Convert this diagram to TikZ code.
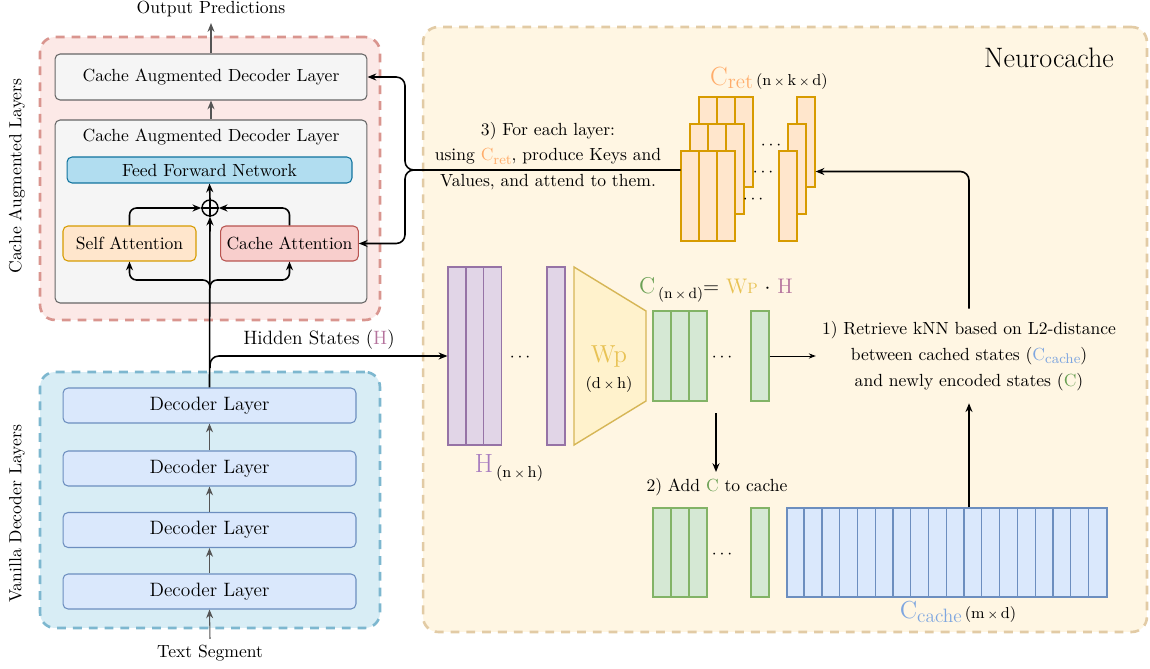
\documentclass[tikz,border=0pt]{standalone}
\usepackage{tikz}
\usetikzlibrary{arrows.meta}

\definecolor{redfr}{HTML}{D9958F}
\definecolor{redbg}{HTML}{FCE9E7}
\definecolor{bluefr}{HTML}{7DB7CF}
\definecolor{bluebg}{HTML}{D8EDF5}
\definecolor{ncfr}{HTML}{E2CBA5}
\definecolor{ncbg}{HTML}{FFF6E3}
\definecolor{gryd}{HTML}{666666}
\definecolor{gryf}{HTML}{F5F5F5}
\definecolor{ffnd}{HTML}{10739E}
\definecolor{ffnf}{HTML}{B1DDF0}
\definecolor{sad}{HTML}{D79B00}
\definecolor{saf}{HTML}{FFE6CC}
\definecolor{cad}{HTML}{B85450}
\definecolor{caf}{HTML}{F8CECC}
\definecolor{decd}{HTML}{6C8EBF}
\definecolor{decf}{HTML}{DAE8FC}
\definecolor{hpd}{HTML}{9673A6}
\definecolor{hpf}{HTML}{E1D5E7}
\definecolor{cgd}{HTML}{82B366}
\definecolor{cgf}{HTML}{D5E8D4}
\definecolor{wpd}{HTML}{D6B656}
\definecolor{wpf}{HTML}{FFF2CC}
\definecolor{cgt}{HTML}{6AA054}
\definecolor{hpink}{HTML}{B5739D}
\definecolor{hlav}{HTML}{A77BBF}
\definecolor{wpc}{HTML}{E8C254}
\definecolor{retc}{HTML}{FFAD6B}
\definecolor{cchc}{HTML}{7EA6E0}
\definecolor{garrc}{HTML}{555555}

\newcommand{\fsz}[1]{\fontsize{#1}{#1}\selectfont}
\newcommand{\tms}{\,{\scriptsize$\times$}\,}
\newcommand{\lsub}[1]{\raisebox{-0.45ex}{\footnotesize #1}}

\tikzset{
  frame/.style={draw=#1, dash pattern=on 5pt off 4pt, line width=1.5pt, rounded corners=0.3cm},
  blk/.style 2 args={draw=#1, fill=#2, rounded corners=0.1cm, line width=0.6pt},
  col/.style 2 args={draw=#1, fill=#2, line width=0.8pt, minimum width=0.356cm, inner sep=0pt},
  conn/.style={line width=0.9pt, black},
  garr/.style={line width=0.6pt, garrc},
}

\begin{document}
\begin{tikzpicture}[x=0.02cm, y=-0.02cm, >={Stealth[length=5pt,width=4pt]}]
\useasboundingbox (0,0) rectangle (1150,669);

  % containers
  \node[frame=redfr, fill=redbg, minimum width=6.8cm, minimum height=5.66cm] (cal) at (210,178.5) {};
  \node[frame=bluefr, fill=bluebg, minimum width=6.8cm, minimum height=5.12cm] (vdl) at (210,500) {};
  \node[frame=ncfr, fill=ncbg, minimum width=14.48cm, minimum height=12.1cm] (nc) at (785,329.5) {};

  \node[rotate=90] (callbl) at (17,176) {Cache Augmented Layers};
  \node[rotate=90] (vdlbl) at (17,514) {Vanilla Decoder Layers};
  \node[font=\fsz{16}] (nclbl) at (1049,58) {Neurocache};

  % cache augmented layers
  \node[blk={gryd}{gryf}, minimum width=6.24cm, minimum height=0.92cm] (topl) at (211,77) {Cache Augmented Decoder Layer};
  \node[blk={gryd}{gryf}, minimum width=6.24cm, minimum height=3.66cm] (big) at (211,211.5) {};
  \node (bigt) at (211,137) {Cache Augmented Decoder Layer};
  \node[blk={ffnd}{ffnf}, minimum width=5.7cm, minimum height=0.52cm] (ffn) at (209.5,170) {Feed Forward Network};
  \node[draw, circle, minimum size=0.32cm, inner sep=0pt, line width=0.8pt] (plus) at (210,208) {};
  \draw[line width=0.8pt] (plus.north) -- (plus.south) (plus.east) -- (plus.west);
  \node[blk={sad}{saf}, minimum width=2.66cm, minimum height=0.7cm] (sa) at (129.5,243.5) {Self Attention};
  \node[blk={cad}{caf}, minimum width=2.66cm, minimum height=0.7cm] (ca) at (289.5,243.5) {Cache Attention};

  % vanilla layers
  \foreach \n/\y in {1/405.5,2/468.5,3/530,4/591.5}
    \node[blk={decd}{decf}, minimum width=5.86cm, minimum height=0.7cm, font=\fsz{11}] (d\n) at (209.5,\y) {Decoder Layer};

  \node (outp) at (211,9) {Output Predictions};
  \node (txtseg) at (210,653) {Text Segment};

  \draw[->,garr] (txtseg.north) -- (d4.south);
  \foreach \a/\b in {4/3,3/2,2/1}
    \draw[->,garr] (d\a.north) -- (d\b.south);
  \draw[->,garr] (big.north) -- (topl.south);
  \draw[->,garr] (topl.north) -- (outp.south);

  \draw[->,conn] (d1.north) -- (plus.south);
  \draw[->,conn] (plus.north) -- (ffn.south);
  \coordinate (br) at (210,288);
  \coordinate (bry) at (210,280);
  \draw[->,conn,rounded corners=4pt] (br) |- (sa.south |- bry) -- (sa.south);
  \draw[->,conn,rounded corners=4pt] (br) |- (ca.south |- bry) -- (ca.south);
  \draw[->,conn,rounded corners=4pt] (sa.north) |- (plus.west);
  \draw[->,conn,rounded corners=4pt] (ca.north) |- (plus.east);

  % hidden states H
  \foreach \i in {0,1,2}
    \node[col={hpd}{hpf}, minimum height=3.56cm] (h\i) at (457+17.7*\i,356) {};
  \node[col={hpd}{hpf}, minimum height=3.56cm] (hn) at (556,356) {};
  \node[font=\fsz{11}] (hslbl) at (319,340) {Hidden States (\textcolor{hpink}{H})};
  \coordinate (hs) at (210,368);
  \draw[->,conn,rounded corners=5pt] (hs) |- (h0.west);
  \node (hlbl) at (509,468) {\textcolor{hlav}{\fsz{15}H}\,\raisebox{-3pt}{\fsz{9}(n\tms h)}};

  % projection Wp
  \draw[draw=wpd, fill=wpf, line width=0.8pt] (574,267) -- (646,311) -- (646,401) -- (574,445) -- cycle;
  \node[font=\fsz{14}, text=wpc] (wp) at (609,356) {Wp};
  \node[font=\fsz{9}] (wpdim) at (609,385) {(d\tms h)};

  % C
  \foreach \i in {0,1,2}
    \node[col={cgd}{cgf}, minimum height=1.8cm] (c\i) at (662+18*\i,356) {};
  \node[col={cgd}{cgf}, minimum height=1.8cm] (cn) at (760,356) {};
  \node[inner sep=0pt] (form) at (716,290) {\textcolor{cgt}{\fsz{13}C}\,\raisebox{-3pt}{\fsz{8.5}(n\tms d)}\fsz{12}= \textcolor{wpc}{W{\fsz{8.5}P}} $\cdot$ \textcolor{hpink}{H}};

  % C added to cache
  \foreach \i in {0,1,2}
    \node[col={cgd}{cgf}, minimum height=1.78cm] (a\i) at (662+18*\i,552.5) {};
  \node[col={cgd}{cgf}, minimum height=1.78cm] (an) at (760,552.5) {};
  \node (addc) at (717,487) {2) Add \textcolor{cgt}{C} to cache};
  \coordinate (cdn) at (716,413);
  \draw[->,conn] (cdn) -- (cdn |- addc.north);

  % cache
  \node[col={decd}{decf}, minimum width=6.4cm, minimum height=1.78cm] (cch) at (947,552.5) {};
  \foreach \i in {1,...,17}
    \draw[decd, line width=0.7pt] ([xshift=\i*0.3556cm]cch.south west) -- ([xshift=\i*0.3556cm]cch.north west);
  \node (cchlbl) at (958,612) {\textcolor{cchc}{\fsz{14}C\raisebox{-2pt}{\fsz{11}cache}}\,\fsz{9}(m\tms d)};

  % retrieved states
  \foreach \l/\dx/\dy in {2/18/-54, 1/9/-27, 0/0/0} {
    \foreach \i in {0,1,2}
      \node[col={sad}{saf}, minimum height=1.8cm] (r\l\i) at (690+18*\i+\dx,196+\dy) {};
    \node[col={sad}{saf}, minimum height=1.8cm] (rn\l) at (788+\dx,196+\dy) {};
  }
  \node (retlbl) at (769,78) {\textcolor{retc}{\fsz{15}C\raisebox{-2pt}{\fsz{12}ret}}\,\fsz{9}(n\tms k\tms d)};

  \foreach \x/\y/\n in {520/358/1, 722/358/2, 722/555/3, 771/146/4, 763/173/5, 753/200/6}
    \node (dt\n) at (\x,\y) {$\cdots$};

  % steps
  \node[align=center, font=\fontsize{10}{14.7}\selectfont, inner ysep=7pt] (knn) at (969,356)
    {1) Retrieve kNN based on L2-distance\\ between cached states (\textcolor{cchc}{C\lsub{cache}})\\ and newly encoded states (\textcolor{cgt}{C})};
  \draw[->,conn,rounded corners=5pt] (knn.north) |- ([yshift=-0.59cm]rn2.east);
  \draw[->,conn] (knn.south |- cch.north) -- (knn.south);
  \draw[-{Stealth[length=4pt,width=3pt]},line width=0.5pt] (cn.east) -- (knn.west |- cn.east);

  \node[align=center, font=\fontsize{10}{14.7}\selectfont] (step3) at (548,156)
    {3) For each layer:\\ using \textcolor{retc}{C\lsub{ret}}, produce Keys and\\ Values, and attend to them.};
  \coordinate (brk) at (405,170);
  \draw[->,conn,rounded corners=5pt] (r00.west |- brk) -- (brk) |- (topl.east);
  \draw[->,conn,rounded corners=5pt] (r00.west |- brk) -- (brk) |- (ca.east);

\end{tikzpicture}
\end{document}
